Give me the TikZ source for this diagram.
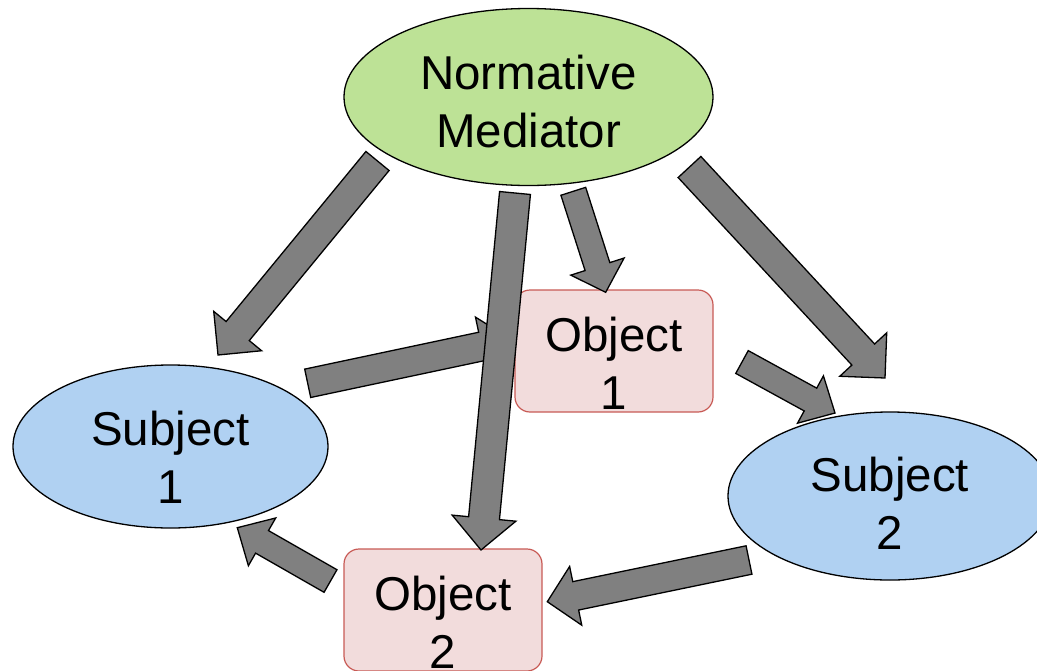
\documentclass[tikz,border=0pt]{standalone}
\usepackage{fontspec}
\setmainfont{Liberation Sans}
\usetikzlibrary{calc,shapes.geometric}
\definecolor{nmgreen}{RGB}{189,226,150}
\definecolor{subjblue}{RGB}{176,209,242}
\definecolor{objpink}{RGB}{242,220,220}
\definecolor{objred}{RGB}{200,90,85}
\definecolor{arrgray}{RGB}{128,128,128}
\tikzset{
  bigtext/.style={font=\fontsize{47.5}{58}\selectfont, align=center, inner sep=0pt},
  nmstyle/.style={ellipse, draw=black, line width=1.3pt, fill=nmgreen, bigtext},
  subjstyle/.style={ellipse, draw=black, line width=1.3pt, fill=subjblue, bigtext},
  objstyle/.style={rectangle, rounded corners=15pt, draw=objred, line width=1.2pt, fill=objpink,
    minimum width=198pt, minimum height=122pt, bigtext},
  blockarrowstyle/.style={draw=black, line width=1.3pt, fill=arrgray, line join=miter}
}
% #1 tail, #2 tip, #3 half shaft width, #4 half head width, #5 head length
\newcommand\blockarrow[5]{%
  \path ($(#2)!#5pt!(#1)$) coordinate (hb);
  \draw[blockarrowstyle] ($(#1)!#3pt!90:(#2)$) -- ($(hb)!#3pt!90:(#2)$) -- ($(hb)!#4pt!90:(#2)$)
    -- (#2) -- ($(hb)!#4pt!-90:(#2)$) -- ($(hb)!#3pt!-90:(#2)$) -- ($(#1)!#3pt!-90:(#2)$) -- cycle;}
\newcommand\tstrut[1]{\rule{0pt}{#1pt}}
\begin{document}
\begin{tikzpicture}[x=1pt,y=-1pt]
\useasboundingbox (0,0) rectangle (1037,670);
% shapes
\node[nmstyle, minimum width=369pt, minimum height=177pt] (nm) at (528.5,97) {\tstrut{44}Normative\\Mediator};
\node[subjstyle, minimum width=315pt, minimum height=163pt] (s1) at (170.5,446.5) {\tstrut{56.4}Subject\\1};
\node[subjstyle, minimum width=324pt, minimum height=168pt] (s2) at (890,496) {\tstrut{49.4}Subject\\2};
\node[objstyle] (o1) at (614,351) {\tstrut{59.4}Object\\1};
\node[objstyle] (o2) at (443,610) {\tstrut{58}Object\\2};
% arrow end points
\coordinate (a1s) at (377.5,161);   \coordinate (a1e) at (218,355);
\coordinate (a2s) at (515,193);     \coordinate (a2e) at (481,550);
\coordinate (a3s) at (573.3,191.3); \coordinate (a3e) at (605.7,292.3);
\coordinate (a4s) at (689.5,167);   \coordinate (a4e) at (885,378);
\coordinate (a5s) at (742,362);     \coordinate (a5e) at (835,413);
\coordinate (a6s) at (749,560);     \coordinate (a6e) at (547.3,601.7);
\coordinate (a7s) at (330.5,581);   \coordinate (a7e) at (237.3,527.7);
\coordinate (a8s) at (307.7,383.3); \coordinate (a8e) at (512,340);
% arrows
\blockarrow{a1s}{a1e}{15}{31}{31}
\blockarrow{a3s}{a3e}{13}{28}{27}
\blockarrow{a4s}{a4e}{15.5}{32}{32}
\blockarrow{a5s}{a5e}{13}{27}{28}
\blockarrow{a6s}{a6e}{14.5}{30}{29}
\blockarrow{a7s}{a7e}{13}{27.5}{28.5}
\blockarrow{a8s}{a8e}{14.5}{30}{31}
\blockarrow{a2s}{a2e}{15.5}{32}{32}
\end{tikzpicture}
\end{document}
